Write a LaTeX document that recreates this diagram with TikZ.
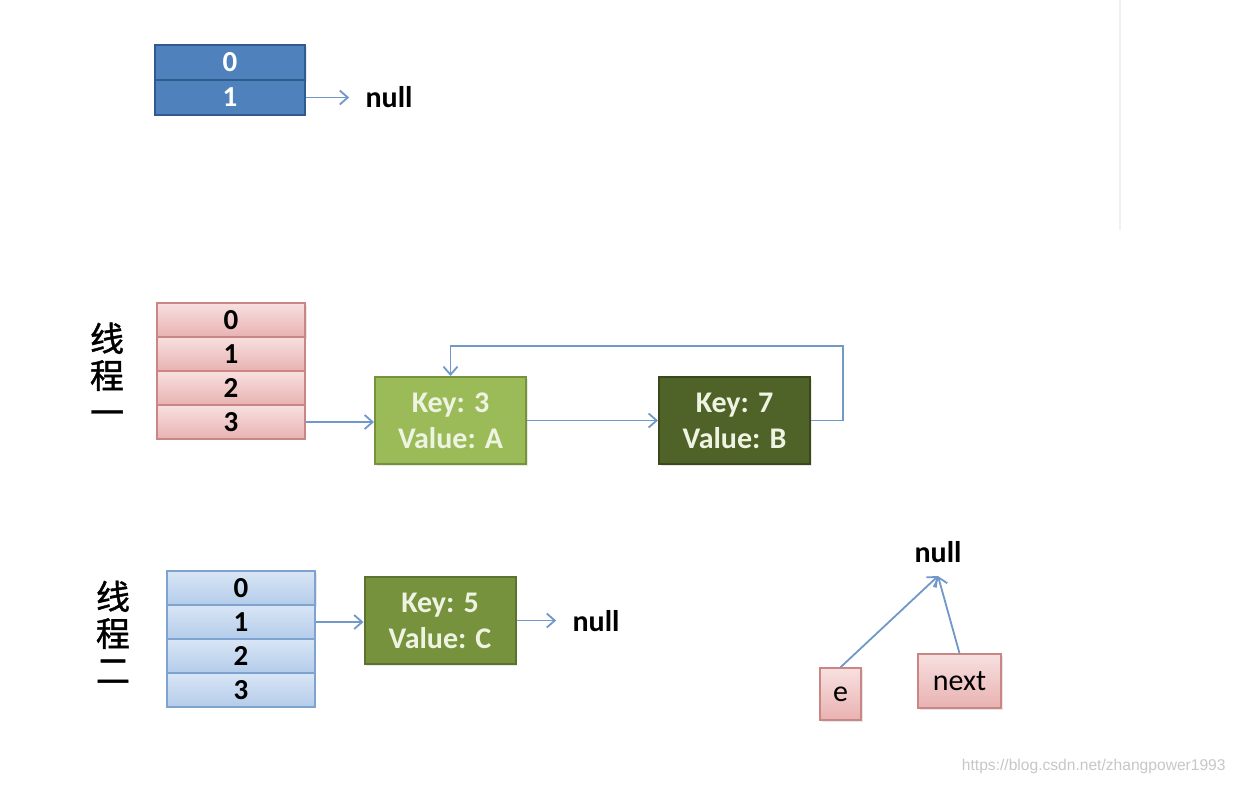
\documentclass[tikz,border=0pt]{standalone}
\usepackage{fontspec}
\setmainfont{Carlito}
\newfontfamily\cjk[FakeBold=1.2]{Noto Sans CJK SC}
\newfontfamily\wmfont{Liberation Sans}
\usetikzlibrary{arrows.meta,calc,shadows}
\definecolor{topblue}{HTML}{4F81BD}
\definecolor{topblueb}{HTML}{2F5B8E}
\definecolor{pinkt}{HTML}{F8E0E0}
\definecolor{pinkb}{HTML}{E8B2B1}
\definecolor{pinkd}{HTML}{C98685}
\definecolor{lbluet}{HTML}{D9E6F6}
\definecolor{lblueb}{HTML}{B4CCEA}
\definecolor{lblued}{HTML}{7FA3CF}
\definecolor{gA}{HTML}{9BBB59}
\definecolor{gAd}{HTML}{76923C}
\definecolor{gB}{HTML}{4F6228}
\definecolor{gBd}{HTML}{3A481C}
\definecolor{gC}{HTML}{76923C}
\definecolor{gCd}{HTML}{5C7330}
\definecolor{arrc}{HTML}{7098C8}
\definecolor{ktext}{HTML}{EEF3E2}
\tikzset{
  shd/.style={drop shadow={opacity=0.18,shadow xshift=0.8pt,shadow yshift=-0.8pt}},
  topcell/.style={draw=topblueb,line width=0.8pt,fill=topblue,text=white,
    minimum width=75pt,minimum height=17.5pt,inner sep=0pt,
    font=\fontsize{14.5}{16}\selectfont\bfseries},
  pinkcell/.style={draw=pinkd,line width=0.7pt,top color=pinkt,bottom color=pinkb,
    text=black,minimum width=74pt,minimum height=17pt,inner sep=0pt,
    font=\fontsize{14.5}{16}\selectfont\bfseries},
  lbcell/.style={draw=lblued,line width=0.7pt,top color=lbluet,bottom color=lblueb,
    text=black,minimum width=74pt,minimum height=17pt,inner sep=0pt,
    font=\fontsize{14.5}{16}\selectfont\bfseries},
  entry/.style={shd,line width=1pt,minimum width=75.5pt,minimum height=43.5pt,
    inner sep=0pt,align=center,text=ktext,
    font=\fontsize{15}{18}\selectfont\bfseries},
  nulltxt/.style={font=\fontsize{15}{17}\selectfont\bfseries,text=black,
    inner xsep=8pt,inner ysep=6.5pt},
  smallbox/.style={shd,draw=pinkd,line width=0.7pt,top color=pinkt,bottom color=pinkb,
    inner sep=0pt,font=\fontsize{15}{17}\selectfont},
  cjklab/.style={align=center,font=\cjk\fontsize{17}{18.5}\selectfont,text=black},
  arr/.style={draw=arrc,line width=0.9pt,-{Straight Barb[length=4pt,width=7pt]}},
}
\begin{document}
\begin{tikzpicture}[x=0.5pt,y=-0.5pt]
\useasboundingbox (0,0) rectangle (1236,784);
\fill[white] (0,0) rectangle (1236,784);
\draw[black!6,line width=0.8pt] (1120,0) -- (1120,230);

% top array
\node[topcell,shd] (t0) at (230,62.5) {0};
\node[topcell] (t1) at (230,97.5) {1};
\node[nulltxt] (n1) at (389,97.5) {null};
\draw[arr] (t1.east) -- (t1.east -| n1.west);

% thread one
\node[cjklab] (l1) at (107,374) {线\\程\\一};
\node[pinkcell,shd] (p0) at (231,320) {0};
\node[pinkcell] (p1) at (231,354) {1};
\node[pinkcell] (p2) at (231,388) {2};
\node[pinkcell] (p3) at (231,422) {3};
\node[entry,fill=gA,draw=gAd] (k3) at (450.5,420.5) {Key: 3\\Value: A};
\node[entry,fill=gB,draw=gBd] (k7) at (734.5,420.5) {Key: 7\\Value: B};
\draw[arr] (p3.east) -- (p3.east -| k3.west);
\draw[arr] (k3.east) -- (k3.east -| k7.west);
\draw[arr] (k7.east) -- ++(16pt,0) |- ([yshift=15pt]k3.north) -- (k3.north);

% thread two
\node[cjklab] (l2) at (113,632) {线\\程\\二};
\node[lbcell,shd] (b0) at (241,588) {0};
\node[lbcell] (b1) at (241,622) {1};
\node[lbcell] (b2) at (241,656) {2};
\node[lbcell] (b3) at (241,690) {3};
\node[entry,fill=gC,draw=gCd] (k5) at (440,620.5) {Key: 5\\Value: C};
\node[nulltxt] (n2) at (596,621) {null};
\draw[arr] (b1.east) -- (b1.east -| k5.west);
\draw[arr] (k5.east) -- (k5.east -| n2.west);

% e / next
\node[nulltxt] (n3) at (938,552) {null};
\node[smallbox,minimum width=20.5pt,minimum height=26pt] (e) at (840.5,694) {e};
\node[smallbox,minimum width=41.5pt,minimum height=27pt] (nx) at (959.5,681) {next};
\draw[arr] (e.north) -- (n3.south);
\draw[arr] (nx.north) -- (n3.south);

% watermark
\node[font=\wmfont\fontsize{7.8}{9}\selectfont,text=black!22,anchor=east,inner sep=0pt] (wm) at (1226,766) {https://blog.csdn.net/zhangpower1993};
\end{tikzpicture}
\end{document}
